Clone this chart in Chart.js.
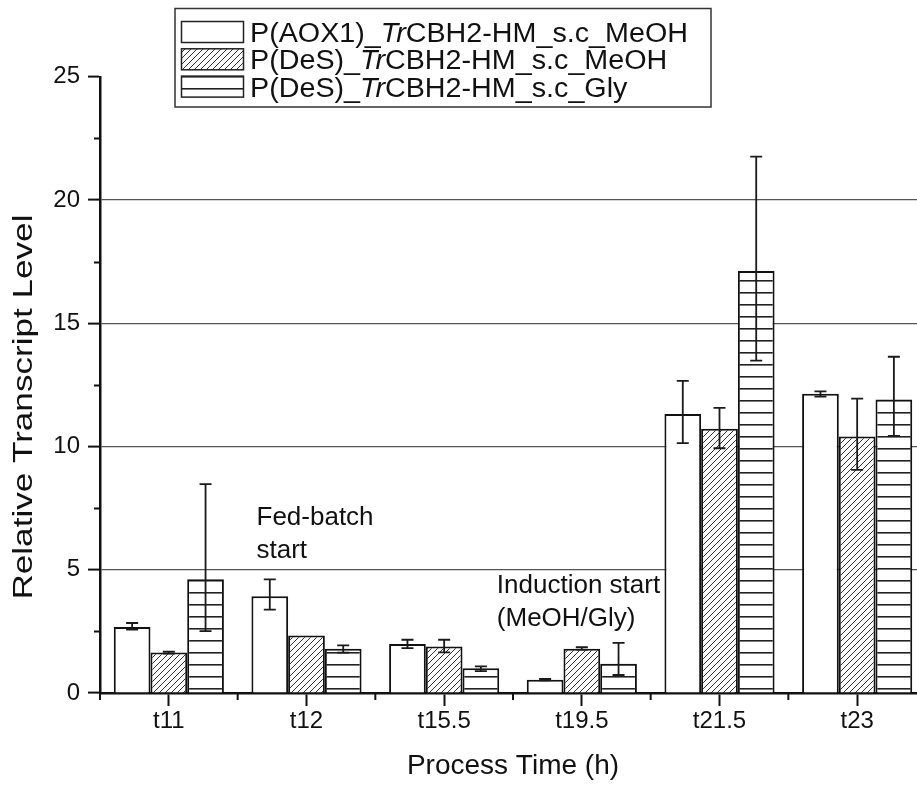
<!DOCTYPE html>
<html>
<head>
<meta charset="utf-8">
<script src="https://cdn.jsdelivr.net/npm/chart.js@4.4.1/dist/chart.umd.min.js"></script>
<style>
  html, body { margin: 0; padding: 0; background: #fff; overflow: hidden; }
  #wrap { position: absolute; left: 0; top: 0; width: 940px; height: 787px; }
</style>
</head>
<body>
<div id="wrap"><canvas id="chart"></canvas></div>
<script>
// Sampling times of the fed-batch process
const categories = ['t11', 't12', 't15.5', 't19.5', 't21.5', 't23'];

// Series labels
const seriesLabels = [
  'P(AOX1)_TrCBH2-HM_s.c_MeOH',
  'P(DeS)_TrCBH2-HM_s.c_MeOH',
  'P(DeS)_TrCBH2-HM_s.c_Gly'
];

// Relative transcript levels (mean) and upper / lower error extents
const aox1MeOH      = [2.68, 3.93, 1.99, 0.54, 11.32, 12.14];
const aox1MeOHPlus  = [0.16, 0.68, 0.17, 0.03, 1.34, 0.10];
const aox1MeOHMinus = [0.11, 0.55, 0.17, 0.03, 1.18, 0.12];

const desMeOH       = [1.64, 2.33, 1.89, 1.80, 10.72, 10.41];
const desMeOHPlus   = [0.04, 0.00, 0.27, 0.06, 0.85, 1.53];
const desMeOHMinus  = [0.04, 0.00, 0.24, 0.04, 0.79, 1.36];

const desGly        = [4.61, 1.80, 1.00, 1.19, 17.12, 11.91];
const desGlyPlus    = [3.86, 0.13, 0.08, 0.84, 4.64, 1.73];
const desGlyMinus   = [2.10, 0.16, 0.11, 0.46, 3.64, 1.48];

// Y axis range and tick labels
const yMin = 0, yMax = 25, yStep = 2.5;
const yTickLabels = ['0', '5', '10', '15', '20', '25'];
const yTitle = 'Relative Transcript Level';
const xTitle = 'Process Time (h)';

// Process-phase notes placed at a category / value position
const phaseNotes = [
  { index: 1, dx: -50, value: 6.8, lines: ['Fed-batch', 'start'] },
  { index: 3, dx: -85, value: 4.04, lines: ['Induction start', '(MeOH/Gly)'] }
];

const FONT = '"Liberation Sans", Arial, Helvetica, sans-serif';
const INK = '#111';

// Fill patterns
function diagonalHatch() {
  const s = 6;
  const c = document.createElement('canvas');
  c.width = s; c.height = s;
  const g = c.getContext('2d');
  g.fillStyle = '#fff';
  g.fillRect(0, 0, s, s);
  g.strokeStyle = '#333';
  g.lineWidth = 1;
  g.beginPath();
  g.moveTo(0, s); g.lineTo(s, 0);
  g.moveTo(-1, 1); g.lineTo(1, -1);
  g.moveTo(s - 1, s + 1); g.lineTo(s + 1, s - 1);
  g.stroke();
  return g.createPattern(c, 'repeat');
}
function horizontalHatch() {
  const c = document.createElement('canvas');
  c.width = 4; c.height = 12;
  const g = c.getContext('2d');
  g.fillStyle = '#fff';
  g.fillRect(0, 0, 4, 12);
  g.fillStyle = '#222';
  g.fillRect(0, 4, 4, 1.6);
  return g.createPattern(c, 'repeat');
}
const fills = ['#ffffff', diagonalHatch(), horizontalHatch()];

const errors = [
  [aox1MeOHPlus, aox1MeOHMinus],
  [desMeOHPlus, desMeOHMinus],
  [desGlyPlus, desGlyMinus]
];

// Error bars drawn at each bar centre from the y scale
const errorBarPlugin = {
  id: 'errorBars',
  afterDatasetsDraw(chart) {
    const { ctx } = chart;
    const y = chart.scales.y;
    ctx.save();
    ctx.strokeStyle = '#1a1a1a';
    ctx.lineWidth = 1.8;
    chart.data.datasets.forEach((ds, di) => {
      const meta = chart.getDatasetMeta(di);
      const [plus, minus] = errors[di];
      meta.data.forEach((bar, i) => {
        if (!plus[i] && !minus[i]) return;
        const v = ds.data[i];
        const yTop = y.getPixelForValue(v + plus[i]);
        const yBot = y.getPixelForValue(v - minus[i]);
        const x = bar.x, hw = 6;
        ctx.beginPath();
        ctx.moveTo(x, yTop); ctx.lineTo(x, yBot);
        ctx.moveTo(x - hw, yTop); ctx.lineTo(x + hw, yTop);
        ctx.moveTo(x - hw, yBot); ctx.lineTo(x + hw, yBot);
        ctx.stroke();
      });
    });
    ctx.restore();
  }
};

// Short minor ticks between the labelled ones
const minorTickPlugin = {
  id: 'minorTicks',
  afterDraw(chart) {
    const { ctx } = chart;
    const x = chart.scales.x, y = chart.scales.y;
    ctx.save();
    ctx.strokeStyle = INK;
    ctx.lineWidth = 2;
    ctx.beginPath();
    for (let v = yMin + yStep; v < yMax; v += 2 * yStep) {
      const py = Math.round(y.getPixelForValue(v)) + 0.5;
      ctx.moveTo(x.left - 6, py); ctx.lineTo(x.left, py);
    }
    const step = x.getPixelForValue(1) - x.getPixelForValue(0);
    for (let i = 0; i <= categories.length; i++) {
      const px = x.getPixelForValue(0) + (i - 0.5) * step;
      ctx.moveTo(px, y.bottom); ctx.lineTo(px, y.bottom + 7);
    }
    ctx.stroke();
    ctx.restore();
  }
};

// Vertical axis title, set along the full height of the value range
const yTitlePlugin = {
  id: 'yTitle',
  afterDraw(chart) {
    const { ctx } = chart;
    const y = chart.scales.y;
    ctx.save();
    ctx.fillStyle = INK;
    ctx.font = '27px ' + FONT;
    ctx.textAlign = 'center';
    ctx.textBaseline = 'middle';
    const w = ctx.measureText(yTitle).width;
    const target = 385;
    ctx.translate(25, y.getPixelForValue(11.6));
    ctx.rotate(-Math.PI / 2);
    ctx.scale(target / w, 1);
    ctx.fillText(yTitle, 0, 0);
    ctx.restore();
  }
};

// Draw a label whose "Tr" part is set in italics
function labelParts(text) {
  const k = text.indexOf('Tr');
  return k < 0 ? [[text, false]] :
    [[text.slice(0, k), false], ['Tr', true], [text.slice(k + 2), false]];
}
function drawMixedLabel(ctx, text, x, baseline, size, sx) {
  let cx = 0;
  ctx.save();
  ctx.translate(x, baseline);
  ctx.scale(sx, 1);
  labelParts(text).forEach(([t, it]) => {
    ctx.font = (it ? 'italic ' : '') + size + 'px ' + FONT;
    ctx.fillText(t, cx, 0);
    cx += ctx.measureText(t).width;
  });
  ctx.restore();
}
function mixedWidth(ctx, text, size) {
  let w = 0;
  labelParts(text).forEach(([t, it]) => {
    ctx.font = (it ? 'italic ' : '') + size + 'px ' + FONT;
    w += ctx.measureText(t).width;
  });
  return w;
}

const legendPlugin = {
  id: 'patternLegend',
  afterDraw(chart) {
    const { ctx } = chart;
    const box = { left: 175, top: 8.5, right: 711, bottom: 107 };
    const size = 27;
    ctx.save();
    const sx = 438 / mixedWidth(ctx, seriesLabels[0], size);
    ctx.strokeStyle = '#333';
    ctx.lineWidth = 1.5;
    ctx.strokeRect(box.left, box.top, box.right - box.left, box.bottom - box.top);
    chart.data.datasets.forEach((ds, i) => {
      const top = 21.5 + i * 27.3;
      ctx.fillStyle = ds.backgroundColor;
      ctx.fillRect(181.5, top, 62, 21);
      ctx.strokeStyle = '#222';
      ctx.lineWidth = 1.5;
      ctx.strokeRect(181.5, top, 62, 21);
      ctx.fillStyle = INK;
      ctx.textBaseline = 'alphabetic';
      drawMixedLabel(ctx, ds.label, 250, top + 20.5, size, sx);
    });
    ctx.restore();
  }
};

const notesPlugin = {
  id: 'phaseNotes',
  afterDraw(chart) {
    const { ctx } = chart;
    const x = chart.scales.x, y = chart.scales.y;
    ctx.save();
    ctx.fillStyle = INK;
    ctx.font = '26px ' + FONT;
    ctx.textAlign = 'left';
    ctx.textBaseline = 'alphabetic';
    phaseNotes.forEach(n => {
      const px = x.getPixelForValue(n.index) + n.dx;
      const py = y.getPixelForValue(n.value);
      n.lines.forEach((t, j) => ctx.fillText(t, px, py + j * 33));
    });
    ctx.restore();
  }
};

new Chart(document.getElementById('chart'), {
  type: 'bar',
  data: {
    labels: categories,
    datasets: [
      { label: seriesLabels[0], data: aox1MeOH },
      { label: seriesLabels[1], data: desMeOH },
      { label: seriesLabels[2], data: desGly }
    ].map((d, i) => Object.assign(d, {
      backgroundColor: fills[i],
      borderColor: INK,
      borderWidth: 2,
      borderSkipped: 'start',
      categoryPercentage: 0.8,
      barPercentage: 1.0
    }))
  },
  options: {
    responsive: true,
    maintainAspectRatio: false,
    devicePixelRatio: 1,
    animation: false,
    layout: { padding: { left: 0, right: 14, top: 76.75, bottom: 0 } },
    plugins: {
      legend: { display: false },
      tooltip: { enabled: false }
    },
    scales: {
      x: {
        z: 1,
        offset: true,
        grid: {
          offset: false,
          drawOnChartArea: false,
          drawTicks: true,
          tickLength: 13,
          tickWidth: 2,
          tickColor: INK
        },
        border: { display: true, color: INK, width: 2.5 },
        ticks: { color: INK, font: { family: FONT, size: 24 }, padding: 1, maxRotation: 0 },
        title: {
          display: true, text: xTitle, color: INK,
          font: { family: FONT, size: 28 }, padding: { top: 0, bottom: 4 }
        },
        afterFit(s) { s.height = 94; }
      },
      y: {
        min: yMin, max: yMax,
        ticks: {
          stepSize: yStep,
          color: INK,
          font: { family: FONT, size: 24 },
          padding: 8,
          callback(v) {
            const k = yTickLabels.indexOf(String(v));
            return k >= 0 ? yTickLabels[k] : '';
          }
        },
        grid: {
          drawTicks: true,
          tickLength: 12,
          tickWidth: 2,
          lineWidth: 1.2,
          color: c => (c.tick && c.tick.value % 5 === 0 && c.tick.value > yMin && c.tick.value < yMax) ? '#555' : 'rgba(0,0,0,0)',
          tickColor: c => (c.tick && c.tick.value % 5 === 0) ? INK : 'rgba(0,0,0,0)'
        },
        border: { display: true, color: INK, width: 2.5 },
        title: { display: false },
        afterFit(s) { s.width = 100; }
      }
    }
  },
  plugins: [errorBarPlugin, minorTickPlugin, legendPlugin, notesPlugin, yTitlePlugin]
});
</script>
</body>
</html>
